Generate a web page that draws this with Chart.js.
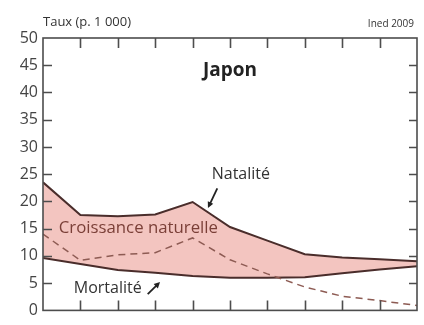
<!DOCTYPE html>
<html>
<head>
<meta charset="utf-8">
<script src="https://cdn.jsdelivr.net/npm/chart.js"></script>
<style>
  html, body { margin: 0; padding: 0; background: #fff; }
  #wrap { width: 424px; height: 325px; position: relative; }
</style>
</head>
<body>
<div id="wrap"><canvas id="c"></canvas></div>
<script>
// Japon : natalité, mortalité, croissance naturelle (p. 1 000)
const years = [1950, 1960, 1970, 1980, 1990, 2000, 2010, 2020, 2030, 2040, 2050];
const natalite = [23.5, 17.5, 17.3, 17.6, 19.9, 15.3, 12.8, 10.3, 9.7, 9.4, 9.0];
const mortalite = [9.6, 8.5, 7.4, 6.9, 6.3, 6.0, 6.0, 6.1, 6.8, 7.5, 8.1];
const croissance = [14.0, 9.2, 10.2, 10.6, 13.3, 9.3, 6.7, 4.3, 2.6, 1.8, 0.9];
const yTicks = [0, 5, 10, 15, 20, 25, 30, 35, 40, 45, 50];

const FONT = '"Open Sans", sans-serif';
const LINE = '#4a2d2b';
const PINK = '#f3c5c0';

const pts = arr => arr.map((v, i) => ({ x: years[i], y: v }));

// flèche simple
function arrow(ctx, x1, y1, x2, y2) {
  const a = Math.atan2(y2 - y1, x2 - x1);
  ctx.beginPath();
  ctx.moveTo(x1, y1);
  ctx.lineTo(x2 - 3 * Math.cos(a), y2 - 3 * Math.sin(a));
  ctx.stroke();
  ctx.beginPath();
  ctx.moveTo(x2, y2);
  ctx.lineTo(x2 - 6 * Math.cos(a) + 3 * Math.sin(a), y2 - 6 * Math.sin(a) - 3 * Math.cos(a));
  ctx.lineTo(x2 - 6 * Math.cos(a) - 3 * Math.sin(a), y2 - 6 * Math.sin(a) + 3 * Math.cos(a));
  ctx.closePath();
  ctx.fill();
}

// cadre + graduations intérieures + textes
const decor = {
  id: 'decor',
  afterDatasetsDraw(chart) {
    const { ctx, chartArea: a, scales: { x, y } } = chart;
    ctx.save();
    ctx.strokeStyle = '#4d4d4d';
    ctx.lineWidth = 1.6;
    ctx.strokeRect(a.left, a.top, a.right - a.left, a.bottom - a.top);
    ctx.beginPath();
    years.slice(1, -1).forEach(v => {
      const px = Math.round(x.getPixelForValue(v)) + 0.5;
      ctx.moveTo(px, a.top); ctx.lineTo(px, a.top + 10);
      ctx.moveTo(px, a.bottom); ctx.lineTo(px, a.bottom - 10);
    });
    yTicks.slice(1, -1).forEach(v => {
      const py = Math.round(y.getPixelForValue(v)) + 0.5;
      ctx.moveTo(a.left, py); ctx.lineTo(a.left + 9, py);
      ctx.moveTo(a.right, py); ctx.lineTo(a.right - 8, py);
    });
    ctx.stroke();

    ctx.fillStyle = '#333';
    ctx.textBaseline = 'middle';
    ctx.textAlign = 'left';
    ctx.font = '13px ' + FONT;
    ctx.fillText('Taux (p. 1 000)', 43, 22);
    ctx.textAlign = 'right';
    ctx.font = '10px ' + FONT;
    ctx.fillText('Ined 2009', 414, 24);

    ctx.textAlign = 'center';
    ctx.fillStyle = '#222';
    ctx.font = 'bold 19px ' + FONT;
    ctx.fillText('Japon', x.getPixelForValue(2000), y.getPixelForValue(44));

    ctx.font = '16px ' + FONT;
    ctx.fillStyle = '#333';
    ctx.fillText('Natalité', x.getPixelForValue(2002.9), y.getPixelForValue(24.9));
    ctx.fillText('Mortalité', x.getPixelForValue(1967.3), y.getPixelForValue(4.0));
    ctx.fillStyle = '#7a3f37';
    ctx.font = '16.8px ' + FONT;
    ctx.fillText('Croissance naturelle', x.getPixelForValue(1975.5), y.getPixelForValue(15.0));

    ctx.strokeStyle = '#222';
    ctx.fillStyle = '#222';
    ctx.lineWidth = 1.8;
    arrow(ctx, x.getPixelForValue(1996.6), y.getPixelForValue(22.4),
               x.getPixelForValue(1994.1), y.getPixelForValue(18.8));
    arrow(ctx, x.getPixelForValue(1978.0), y.getPixelForValue(3.0),
               x.getPixelForValue(1981.3), y.getPixelForValue(5.2));
    ctx.restore();
  }
};

new Chart(document.getElementById('c'), {
  type: 'line',
  data: {
    datasets: [
      { label: 'Natalité', data: pts(natalite), borderColor: LINE, borderWidth: 2,
        backgroundColor: PINK, fill: { target: 1 }, pointRadius: 0, tension: 0, order: 2 },
      { label: 'Mortalité', data: pts(mortalite), borderColor: LINE, borderWidth: 2,
        pointRadius: 0, tension: 0, fill: false, order: 1 },
      { label: 'Croissance naturelle', data: pts(croissance), borderColor: '#8d5b53',
        borderWidth: 1.5, borderDash: [7, 5], pointRadius: 0, tension: 0, fill: false, order: 0 }
    ]
  },
  options: {
    responsive: true,
    maintainAspectRatio: false,
    animation: false,
    layout: { padding: { left: 0, top: 38, right: 7, bottom: 10 } },
    plugins: { legend: { display: false }, tooltip: { enabled: false } },
    scales: {
      x: {
        type: 'linear', min: 1950, max: 2050,
        grid: { display: false, drawTicks: false },
        border: { display: false },
        ticks: { display: false },
        afterFit: s => { s.height = 0; }
      },
      y: {
        min: 0, max: 50,
        afterBuildTicks: s => { s.ticks = yTicks.map(v => ({ value: v })); },
        grid: { display: false, drawTicks: false },
        border: { display: false },
        ticks: { padding: 5, color: '#444', font: { family: FONT, size: 16 } },
        afterFit: s => { s.width = 43; }
      }
    }
  },
  plugins: [decor]
});
</script>
</body>
</html>
